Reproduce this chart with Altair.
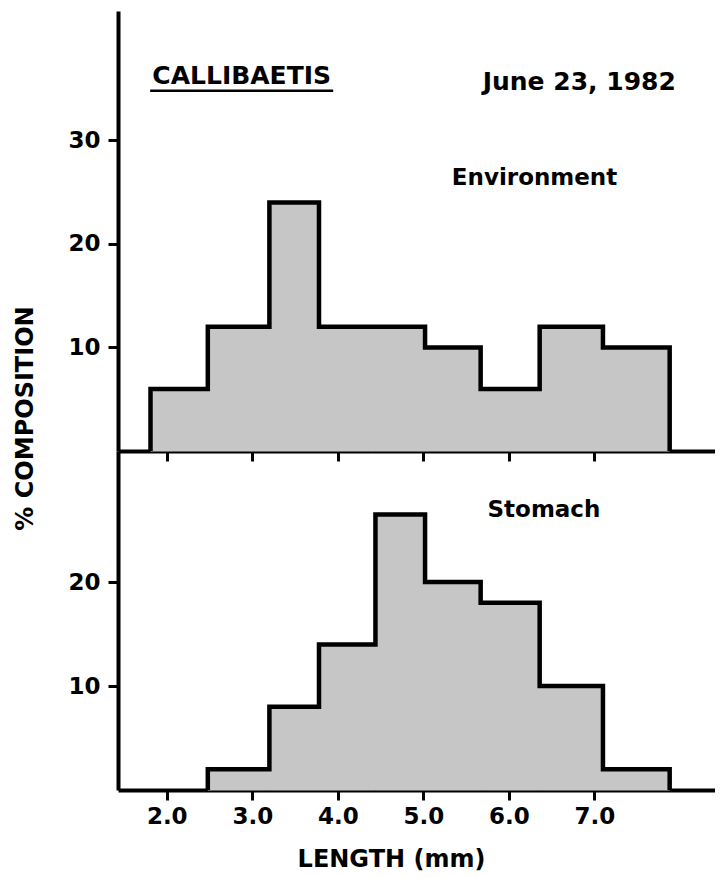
import altair as alt
import pandas as pd

# ---- data ----
bin_lo = [1.81, 2.48, 3.20, 3.78, 4.44, 5.02, 5.67, 6.36, 7.10]
bin_hi = [2.48, 3.20, 3.78, 4.44, 5.02, 5.67, 6.36, 7.10, 7.88]
environment_pct = [6, 12, 24, 12, 12, 10, 6, 12, 10]
stomach_pct = [0, 2, 8, 14, 26.5, 20, 18, 10, 2]

x_ticks = [2, 3, 4, 5, 6, 7]
env_y_ticks = [10, 20, 30]
stom_y_ticks = [10, 20]

# annotation positions (data coordinates)
title_labels = ["CALLIBAETIS", "June 23, 1982"]
title_x = [2.876, 6.823]
title_y = [36.2, 35.6]
underline_x = [1.806, 3.946]
underline_y = [34.8]
env_label = ["Environment"]
env_label_x = [6.30]
env_label_y = [26.4]
stom_label = ["Stomach"]
stom_label_x = [6.41]
stom_label_y = [26.9]

FONT = "DejaVu Sans"
X_DOMAIN = [1.43, 8.41]
FILL = "#c6c6c6"


def bars_df(vals):
    d = pd.DataFrame({"lo": bin_lo, "hi": bin_hi, "pct": vals})
    return d[d.pct > 0].reset_index(drop=True)


def outline_df(vals):
    d = bars_df(vals)
    lo, hi, v = list(d.lo), list(d.hi), list(d.pct)
    xs = [lo[0]] + lo + [hi[-1], hi[-1]]
    ys = [0] + v + [v[-1], 0]
    return pd.DataFrame({"x": xs, "pct": ys, "i": list(range(len(xs)))})


def panel(vals, ymax, x_axis, y_axis, extras):
    xs = alt.Scale(domain=X_DOMAIN, nice=False, zero=False)
    ys = alt.Scale(domain=[0, ymax], nice=False, zero=False)

    def X(field):
        return alt.X(field, scale=xs, axis=x_axis)

    def Y(field):
        return alt.Y(field, scale=ys, axis=y_axis)

    fill = alt.Chart(bars_df(vals)).mark_rect(
        fill=FILL, stroke=FILL, strokeWidth=1
    ).encode(x=X("lo:Q"), x2="hi:Q", y=Y("pct:Q"), y2=alt.datum(0))
    line = alt.Chart(outline_df(vals)).mark_line(
        color="black", strokeWidth=4.5, interpolate="step-after",
        strokeJoin="miter"
    ).encode(x=X("x:Q"), y=Y("pct:Q"), order="i:Q")
    layers = [fill, line]
    for df, size in extras:
        layers.append(
            alt.Chart(df).mark_text(
                font=FONT, fontWeight="bold", fontSize=size, color="black",
                align="center", baseline="middle"
            ).encode(x=X("x:Q"), y=Y("pct:Q"), text="label:N")
        )
    return layers, X, Y


top_x_axis = alt.Axis(values=x_ticks, labels=False, title=None, ticks=True)
top_y_axis = alt.Axis(
    values=env_y_ticks, title="% COMPOSITION", titleX=-93, titleY=407,
    titleAngle=270, titleAlign="center", titleBaseline="middle",
)
bot_x_axis = alt.Axis(
    values=x_ticks, format=".1f", title="LENGTH (mm)", titleX=273, titleY=69,
    titleAngle=0, titleAlign="center", titleBaseline="middle",
    labelFlush=False, labelOverlap=False,
)
bot_y_axis = alt.Axis(values=stom_y_ticks, title=None)

titles_df = pd.DataFrame({"x": title_x, "pct": title_y, "label": title_labels})
env_df = pd.DataFrame({"x": env_label_x, "pct": env_label_y, "label": env_label})
stom_df = pd.DataFrame({"x": stom_label_x, "pct": stom_label_y, "label": stom_label})

top_layers, TX, TY = panel(
    environment_pct, 42.5, top_x_axis, top_y_axis,
    [(titles_df, 25), (env_df, 23)],
)
underline = alt.Chart(
    pd.DataFrame({"x": [underline_x[0]], "x2": [underline_x[1]], "pct": underline_y})
).mark_rule(color="black", strokeWidth=2.5).encode(
    x=TX("x:Q"), x2="x2:Q", y=TY("pct:Q"),
)
top = alt.layer(*top_layers, underline).properties(width=597, height=440)

bot_layers, _, _ = panel(
    stomach_pct, 32.6, bot_x_axis, bot_y_axis, [(stom_df, 23)]
)
bottom = alt.layer(*bot_layers).properties(width=597, height=339)

chart = (
    alt.vconcat(top, bottom, spacing=0, bounds="flush")
    .resolve_scale(y="independent")
    .properties(padding={"left": 5, "top": 3, "right": 0, "bottom": 0},
                background="white")
    .configure_view(stroke=None)
    .configure_axis(
        domainColor="black", domainWidth=4, tickColor="black", tickWidth=3,
        tickSize=10, labelFont=FONT, labelFontWeight="bold", labelFontSize=23,
        labelColor="black", titleFont=FONT, titleFontWeight="bold",
        titleFontSize=24, titleColor="black", grid=False, zindex=1,
    )
    .configure_axisY(labelPadding=8)
    .configure_axisX(labelPadding=5)
)

chart.save("out.html", embed_options={"renderer": "svg", "actions": False})
